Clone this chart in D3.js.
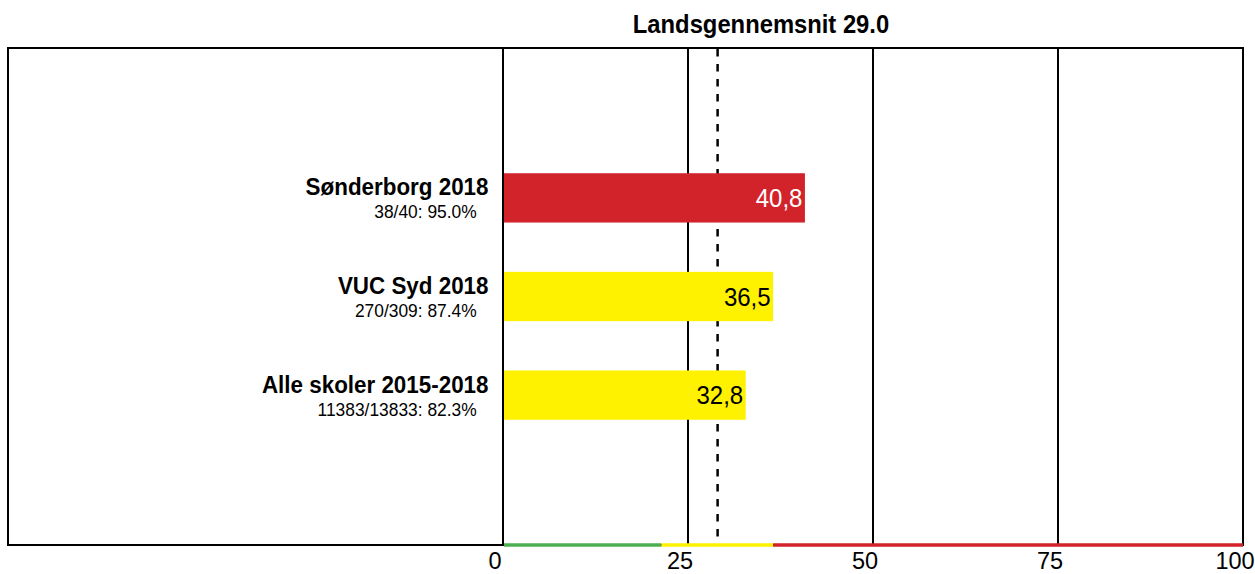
<!DOCTYPE html>
<html><head><meta charset="utf-8">
<script src="https://cdn.jsdelivr.net/npm/d3@7"></script>
<style>body{margin:0;background:#fff}svg{display:block;font-family:"Liberation Sans",Arial,sans-serif}</style>
</head><body><svg id="c" width="1255" height="574"></svg>
<script>
const categories = ["Sønderborg 2018", "VUC Syd 2018", "Alle skoler 2015-2018"];
const subLabels = ["38/40: 95.0%", "270/309: 87.4%", "11383/13833: 82.3%"];
const values = [40.8, 36.5, 32.8];
const barColors = ["#d2232a", "#fff200", "#fff200"];
const tickValues = [0, 25, 50, 75, 100];
const average = 29.0;
const zoneBreaks = [0, 21.4, 36.5, 100];
const zoneColors = ["#4caf50", "#fff200", "#d2232a"];

(function () {
const svg = d3.select("#c");
const pLeft = 8, x0 = 503, x1 = 1243, pTop = 48, pBottom = 545;
const VS = 1.07; // vertical stretch of text in reference
const x = d3.scaleLinear().domain([0, 100]).range([x0, x1]);
const y = d3.scaleBand().domain(categories).range([pTop, pBottom]).paddingInner(0.5).paddingOuter(1.27);
const tr = (px, py, s) => `translate(${px},${py}) scale(1,${s || VS})`;

// frame
svg.append("rect").attr("x", pLeft).attr("y", pTop).attr("width", x1 - pLeft).attr("height", pBottom - pTop)
  .attr("fill", "none").attr("stroke", "#000").attr("stroke-width", 2);

// gridlines
svg.selectAll(".grid").data(tickValues).join("line")
  .attr("x1", d => x(d)).attr("x2", d => x(d)).attr("y1", pTop).attr("y2", pBottom)
  .attr("stroke", "#000").attr("stroke-width", 2);

// average dashed line
svg.append("line").attr("x1", x(average)).attr("x2", x(average)).attr("y1", pTop + 1).attr("y2", pBottom)
  .attr("stroke", "#000").attr("stroke-width", 2.5).attr("stroke-dasharray", "7.5,7.5");

// bars (drawn over grid and average line)
svg.selectAll(".bar").data(values).join("rect")
  .attr("x", x(0) + 1).attr("y", (d, i) => y(categories[i]))
  .attr("width", d => x(d) - x(0) - 1).attr("height", y.bandwidth())
  .attr("fill", (d, i) => barColors[i]);

// value labels
svg.selectAll(".val").data(values).join("text")
  .attr("transform", (d, i) => tr(x(d) - 2.5, y(categories[i]) + y.bandwidth() / 2 + 9))
  .attr("text-anchor", "end").attr("font-size", 24)
  .attr("fill", (d, i) => barColors[i] === "#d2232a" ? "#fff" : "#000")
  .text(d => d.toFixed(1).replace(".", ","));

// category labels
svg.selectAll(".cat").data(categories).join("text")
  .attr("transform", d => tr(488.5, y(d) + y.bandwidth() / 2 - 2.5))
  .attr("text-anchor", "end").attr("font-size", 22.4).attr("font-weight", "bold").text(d => d);
svg.selectAll(".sub").data(subLabels).join("text")
  .attr("transform", (d, i) => tr(476.7, y(categories[i]) + y.bandwidth() / 2 + 20.5))
  .attr("text-anchor", "end").attr("font-size", 17.4).text(d => d);

// bottom coloured zone strip
svg.append("line").attr("x1", pLeft - 1).attr("x2", x0).attr("y1", pBottom).attr("y2", pBottom)
  .attr("stroke", "#000").attr("stroke-width", 2);
svg.selectAll(".zone").data(zoneColors).join("line")
  .attr("x1", (d, i) => x(zoneBreaks[i]) + (i === 0 ? 1 : 0)).attr("x2", (d, i) => x(zoneBreaks[i + 1]))
  .attr("y1", pBottom).attr("y2", pBottom).attr("stroke", d => d).attr("stroke-width", 3.5);

// x axis tick labels
svg.selectAll(".tick").data(tickValues).join("text")
  .attr("transform", d => tr(x(d) - 8, 568.5, 1.04))
  .attr("text-anchor", "middle").attr("font-size", 23.5).text(d => d);

// title
svg.append("text").attr("transform", tr(761, 32.5)).attr("text-anchor", "middle")
  .attr("font-size", 23.8).attr("font-weight", "bold").text("Landsgennemsnit " + average.toFixed(1));
})();
</script></body></html>
